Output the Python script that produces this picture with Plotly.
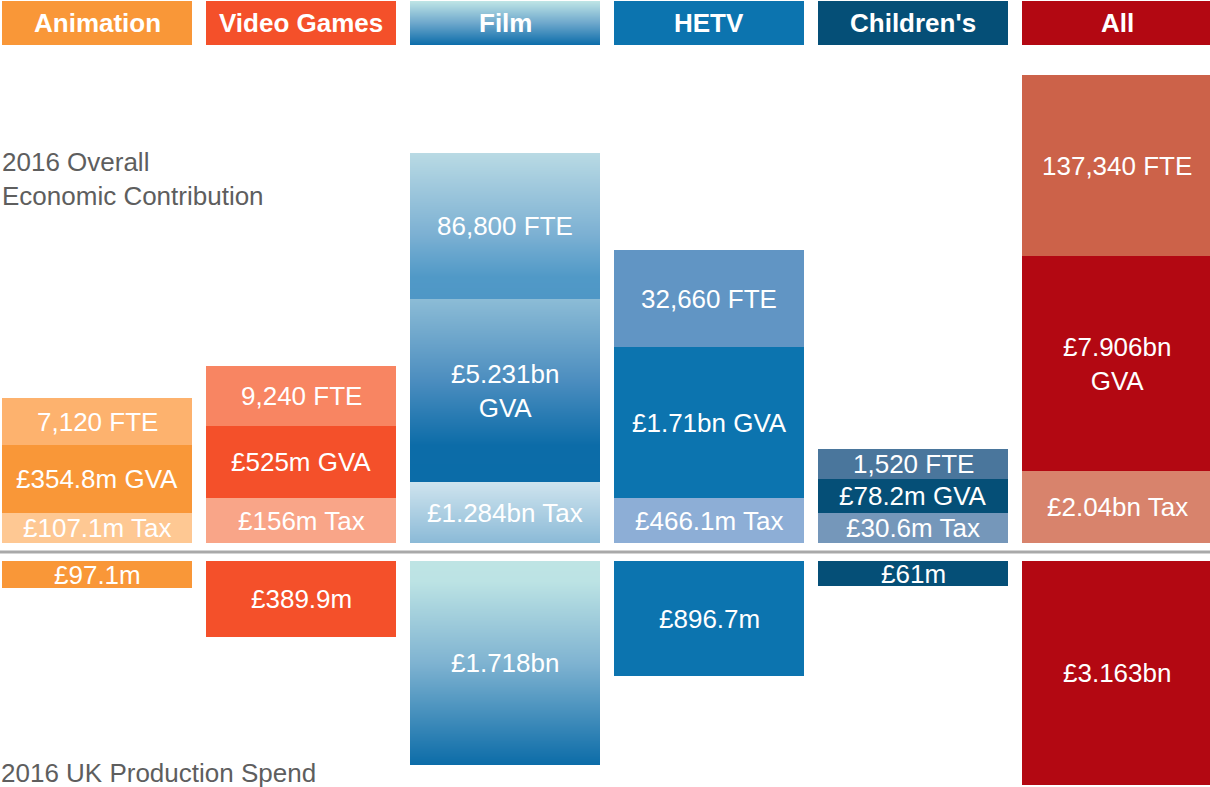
import plotly.graph_objects as go

# ---------------- data ----------------
categories = ["Animation", "Video Games", "Film", "HETV", "Children's", "All"]
# segment heights of the stacked "overall economic contribution" bars (drawing units)
tax_height = [30, 45, 61, 45, 30, 72]
gva_height = [68, 72, 183, 151, 34, 215]
fte_height = [47, 60, 146, 97, 30, 181]
# heights of the "UK production spend" bars (drawn downward)
spend_height = [27, 76, 204, 115, 25, 224]

tax_labels = ["£107.1m Tax", "£156m Tax", "£1.284bn Tax", "£466.1m Tax", "£30.6m Tax", "£2.04bn Tax"]
gva_labels = ["£354.8m GVA", "£525m GVA", "£5.231bn<br>GVA", "£1.71bn GVA", "£78.2m GVA", "£7.906bn<br>GVA"]
fte_labels = ["7,120 FTE", "9,240 FTE", "86,800 FTE", "32,660 FTE", "1,520 FTE", "137,340 FTE"]
spend_labels = ["£97.1m", "£389.9m", "£1.718bn", "£896.7m", "£61m", "£3.163bn"]

upper_title = "2016 Overall<br>Economic Contribution"
lower_title = "2016 UK Production Spend"

# ---------------- styles ----------------
# colour: either a hex string or a list of (fraction-from-top, hex) stops for a vertical gradient
styles = {
    "Animation":   {"header": "#F99738", "fte": "#FDB26E", "gva": "#F99738", "tax": "#FEC893", "spend": "#F99738"},
    "Video Games": {"header": "#F4502A", "fte": "#F88562", "gva": "#F4502A", "tax": "#F9A588", "spend": "#F4502A"},
    "Film": {
        "header": [(0, "#BFE5E6"), (0.5, "#6EA8CC"), (1, "#0C6DAA")],
        "fte": [(0, "#B9DAE4"), (0.55, "#7DB1D3"), (0.85, "#5099C7"), (1, "#4F97C6")],
        "gva": [(0, "#8CBCD6"), (0.45, "#4B8DBF"), (0.8, "#0C6CA8"), (1, "#0B6CA8")],
        "tax": [(0, "#CFE4EE"), (1, "#8BBAD7")],
        "spend": [(0, "#BEE4E4"), (0.1, "#BCE3E4"), (0.5, "#7FB3D1"), (1, "#0C6CA8")],
    },
    "HETV":        {"header": "#0C74AF", "fte": "#6195C4", "gva": "#0C74AF", "tax": "#8DAED6", "spend": "#0C74AF"},
    "Children's":  {"header": "#054F77", "fte": "#4A769C", "gva": "#054F77", "tax": "#7597BA", "spend": "#054F77"},
    "All":         {"header": "#B30812", "fte": "#CC6249", "gva": "#B30812", "tax": "#D8836C", "spend": "#B30812"},
}

W, H = 1210, 787
GAP = 9            # distance of bars from the divider line
HEADER_BASE = 507  # header band bottom (drawing units above divider)
HEADER_H = 44
BAR_W = 0.93
FONT = "Liberation Sans, Arial, Helvetica, sans-serif"
LABEL_SIZE = 26


def hex2rgb(h):
    h = h.lstrip("#")
    return tuple(int(h[i:i + 2], 16) for i in (0, 2, 4))


def interp(stops, f):
    for (f0, c0), (f1, c1) in zip(stops[:-1], stops[1:]):
        if f0 <= f <= f1:
            t = 0 if f1 == f0 else (f - f0) / (f1 - f0)
            a, b = hex2rgb(c0), hex2rgb(c1)
            return "rgb(%d,%d,%d)" % tuple(round(a[k] + (b[k] - a[k]) * t) for k in range(3))
    return stops[-1][1]


fig = go.Figure()


def add_segment(xpos, base, height, color):
    """Add one bar segment from base to base+height (height may be negative)."""
    lo = min(base, base + height)
    hgt = abs(height)
    if isinstance(color, str):
        fig.add_trace(go.Bar(x=[xpos], y=[hgt], base=[lo], width=BAR_W,
                             marker=dict(color=color, line=dict(width=0)),
                             hoverinfo="skip", showlegend=False))
    else:
        n = int(round(hgt))
        bases, heights, cols = [], [], []
        for i in range(n):
            # i counted from the top of the segment
            f = (i + 0.5) / n
            top = lo + hgt - i
            bases.append(top - 1.6 if i < n - 1 else lo)
            heights.append(1.6 if i < n - 1 else top - lo)
            cols.append(interp(color, f))
        fig.add_trace(go.Bar(x=[xpos] * n, y=heights, base=bases, width=BAR_W,
                             marker=dict(color=cols, line=dict(width=0)),
                             hoverinfo="skip", showlegend=False))


annotations = []


def label(xpos, ycenter, text, size=LABEL_SIZE, bold=False):
    annotations.append(dict(x=xpos, y=ycenter, xref="x", yref="y", text=("<b>%s</b>" % text) if bold else text,
                            showarrow=False, font=dict(family=FONT, size=size, color="white"),
                            xanchor="center", yanchor="middle", align="center"))


for i, cat in enumerate(categories):
    st = styles[cat]
    # header
    add_segment(i, HEADER_BASE, HEADER_H, st["header"])
    label(i, HEADER_BASE + HEADER_H / 2, cat, size=26, bold=True)
    # upper stack: tax, gva, fte
    b = GAP
    for key, hh, lab in (("tax", tax_height[i], tax_labels[i]),
                         ("gva", gva_height[i], gva_labels[i]),
                         ("fte", fte_height[i], fte_labels[i])):
        add_segment(i, b, hh, st[key])
        label(i, b + hh / 2, lab)
        b += hh
    # lower bar: spend
    add_segment(i, -GAP, -spend_height[i], st["spend"])
    label(i, -GAP - spend_height[i] / 2, spend_labels[i])

annotations.append(dict(x=0, y=373, xref="paper", yref="y", text=upper_title, showarrow=False,
                        xanchor="left", yanchor="middle", align="left",
                        font=dict(family=FONT, size=26, color="#5E5E5E")))
annotations.append(dict(x=0, y=-221, xref="paper", yref="y", text=lower_title, showarrow=False,
                        xanchor="left", yanchor="middle", align="left", height=28, borderpad=0,
                        font=dict(family=FONT, size=26, color="#5E5E5E")))

fig.update_layout(
    width=W, height=H,
    margin=dict(l=0, r=0, t=0, b=0),
    paper_bgcolor="white", plot_bgcolor="white",
    barmode="overlay", bargap=0,
    xaxis=dict(range=[-97 / 204, (W - 97) / 204], visible=False, fixedrange=True),
    yaxis=dict(range=[-(H - 552), 552], visible=False, fixedrange=True),
    annotations=annotations,
    shapes=[dict(type="line", xref="paper", yref="y", x0=0, x1=1, y0=0, y1=0,
                 line=dict(color="#A9A9A9", width=3), layer="below")],
    showlegend=False,
)

fig.write_html("out.html", config={"displayModeBar": False},
               post_script="document.body.style.margin='0';document.body.style.overflow='hidden';")
